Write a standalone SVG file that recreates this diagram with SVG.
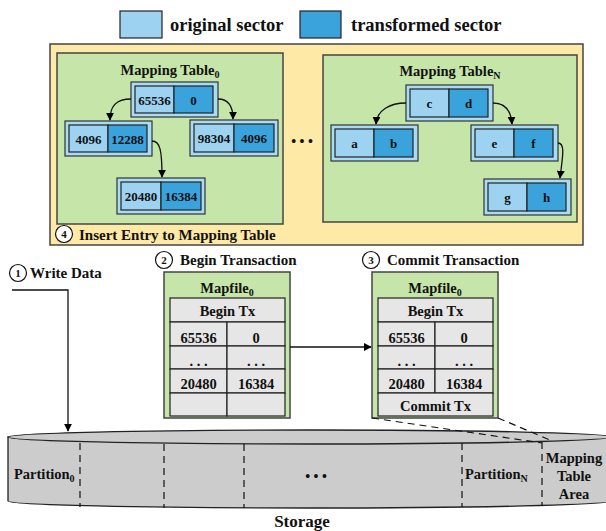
<svg xmlns="http://www.w3.org/2000/svg" width="606" height="531" viewBox="0 0 606 531">
<defs>
<marker id="ah" viewBox="0 0 10 10" refX="9" refY="5" markerWidth="8" markerHeight="8" markerUnits="userSpaceOnUse" orient="auto">
<path d="M0,0 L10,5 L0,10 z" fill="#000"/>
</marker>
<style>
text{font-family:"Liberation Serif","Times New Roman",serif;font-weight:bold;fill:#111;}
tspan{fill:#111;}
.lt{fill:#9dd3f1;stroke:#222;stroke-width:1.2;}
.dk{fill:#3ba3dc;stroke:#222;stroke-width:1.2;}
.outer{fill:#a9dbf4;stroke:#333;stroke-width:1.2;}
.yel{fill:#ffe9a6;stroke:#444;stroke-width:1.5;}
.grn{fill:#c6e6a9;stroke:#444;stroke-width:1.5;}
.cell{fill:#e6e6e6;stroke:#222;stroke-width:1.2;}
.num{font-size:13px;text-anchor:middle;}
.mf{font-size:14.5px;text-anchor:middle;}
.lbl{font-size:15px;}
.circ{fill:#fff;stroke:#111;stroke-width:1.2;}
.cn{font-size:11px;text-anchor:middle;}
.conn{fill:none;stroke:#111;stroke-width:1.3;}
.dash{fill:none;stroke:#111;stroke-width:1.2;stroke-dasharray:7,5;}
</style>
</defs>

<!-- Legend -->
<g id="legend">
<rect x="120" y="11" width="42" height="27" class="lt"/>
<text x="170" y="31" font-size="18.5">original sector</text>
<rect x="300" y="11" width="41" height="27" class="dk"/>
<text x="351" y="31" font-size="18.5">transformed sector</text>
</g>

<!-- Container -->
<g id="mapping-area">
<rect x="50" y="44" width="533" height="201" class="yel"/>
<rect x="57" y="53" width="226" height="171" class="grn"/>
<rect x="323" y="55" width="254" height="167" class="grn"/>
<text x="170" y="75" font-size="14.5" text-anchor="middle">Mapping Table<tspan font-size="10" dy="3">0</tspan></text>
<text x="450" y="76" font-size="14.5" text-anchor="middle">Mapping Table<tspan font-size="10" dy="3">N</tspan></text>
<text x="302" y="146" font-size="14" text-anchor="middle">• • •</text>
<circle cx="64" cy="234" r="8.5" class="circ"/>
<text x="64" y="238" class="cn">4</text>
<text x="79" y="239.5" class="lbl" font-size="16">Insert Entry to Mapping Table</text>
</g>

<!-- Tree 0 nodes -->
<g id="n65536">
<rect x="131" y="82" width="87" height="35" class="outer"/>
<rect x="135" y="86" width="39" height="27" class="lt"/>
<rect x="174" y="86" width="39" height="27" class="dk"/>
<text x="154.5" y="104.5" class="num">65536</text>
<text x="193.5" y="104.5" class="num">0</text>
</g>
<g id="n4096">
<rect x="65" y="121" width="87" height="35" class="outer"/>
<rect x="69" y="125" width="39" height="27" class="lt"/>
<rect x="108" y="125" width="39" height="27" class="dk"/>
<text x="88.5" y="143.5" class="num">4096</text>
<text x="127.5" y="143.5" class="num">12288</text>
</g>
<g id="n98304">
<rect x="190" y="120" width="88" height="36" class="outer"/>
<rect x="194" y="124" width="40" height="28" class="lt"/>
<rect x="234" y="124" width="40" height="28" class="dk"/>
<text x="214" y="142.5" class="num">98304</text>
<text x="254" y="142.5" class="num">4096</text>
</g>
<g id="n20480">
<rect x="117" y="178" width="88" height="36" class="outer"/>
<rect x="121" y="182" width="40" height="28" class="lt"/>
<rect x="161" y="182" width="40" height="28" class="dk"/>
<text x="141" y="200.5" class="num">20480</text>
<text x="181" y="200.5" class="num">16384</text>
</g>

<!-- Tree N nodes -->
<g id="ncd">
<rect x="406" y="85" width="87" height="36" class="outer"/>
<rect x="410" y="89" width="39" height="28" class="lt"/>
<rect x="449" y="89" width="39" height="28" class="dk"/>
<text x="429.5" y="107.5" class="num">c</text>
<text x="468.5" y="107.5" class="num">d</text>
</g>
<g id="nab">
<rect x="331" y="125" width="87" height="36" class="outer"/>
<rect x="335" y="129" width="39" height="28" class="lt"/>
<rect x="374" y="129" width="39" height="28" class="dk"/>
<text x="354.5" y="147.5" class="num">a</text>
<text x="393.5" y="147.5" class="num">b</text>
</g>
<g id="nef">
<rect x="471" y="125" width="87" height="36" class="outer"/>
<rect x="475" y="129" width="39" height="28" class="lt"/>
<rect x="514" y="129" width="39" height="28" class="dk"/>
<text x="494.5" y="147.5" class="num">e</text>
<text x="533.5" y="147.5" class="num">f</text>
</g>
<g id="ngh">
<rect x="484" y="179" width="87" height="36" class="outer"/>
<rect x="488" y="183" width="39" height="28" class="lt"/>
<rect x="527" y="183" width="39" height="28" class="dk"/>
<text x="507.5" y="201.5" class="num">g</text>
<text x="546.5" y="201.5" class="num">h</text>
</g>

<!-- Step labels -->
<g id="step1">
<circle cx="18" cy="273" r="8.5" class="circ"/>
<text x="18" y="277" class="cn">1</text>
<text x="30" y="278" class="lbl">Write Data</text>
</g>
<g id="step2">
<circle cx="164" cy="260" r="8.5" class="circ"/>
<text x="164" y="264" class="cn">2</text>
<text x="180" y="265" class="lbl">Begin Transaction</text>
</g>
<g id="step3">
<circle cx="371" cy="260" r="8.5" class="circ"/>
<text x="371" y="264" class="cn">3</text>
<text x="387" y="265" class="lbl">Commit Transaction</text>
</g>

<!-- Mapfile begin -->
<g id="mapfile-begin">
<rect x="164" y="272" width="126" height="146" class="grn"/>
<text x="227" y="293" class="mf">Mapfile<tspan font-size="10" dy="3">0</tspan></text>
<rect x="170" y="298" width="115" height="24" class="cell"/>
<rect x="170" y="322" width="57" height="24" class="cell"/>
<rect x="227" y="322" width="58" height="24" class="cell"/>
<rect x="170" y="346" width="57" height="23" class="cell"/>
<rect x="227" y="346" width="58" height="23" class="cell"/>
<rect x="170" y="369" width="57" height="24" class="cell"/>
<rect x="227" y="369" width="58" height="24" class="cell"/>
<rect x="170" y="393" width="57" height="23" class="cell"/>
<rect x="227" y="393" width="58" height="23" class="cell"/>
<text x="227.5" y="315.5" class="mf">Begin Tx</text>
<text x="198.5" y="343" class="mf">65536</text>
<text x="256" y="343" class="mf">0</text>
<text x="198.5" y="366" class="mf">. . .</text>
<text x="256" y="366" class="mf">. . .</text>
<text x="198.5" y="389" class="mf">20480</text>
<text x="256" y="389" class="mf">16384</text>
</g>

<!-- Mapfile commit -->
<g id="mapfile-commit">
<rect x="372" y="272" width="126" height="146" class="grn"/>
<text x="435" y="293" class="mf">Mapfile<tspan font-size="10" dy="3">0</tspan></text>
<rect x="378" y="298" width="115" height="24" class="cell"/>
<rect x="378" y="322" width="57" height="24" class="cell"/>
<rect x="435" y="322" width="58" height="24" class="cell"/>
<rect x="378" y="346" width="57" height="23" class="cell"/>
<rect x="435" y="346" width="58" height="23" class="cell"/>
<rect x="378" y="369" width="57" height="24" class="cell"/>
<rect x="435" y="369" width="58" height="24" class="cell"/>
<rect x="378" y="393" width="115" height="23" class="cell"/>
<text x="435.5" y="315.5" class="mf">Begin Tx</text>
<text x="406.5" y="343" class="mf">65536</text>
<text x="464" y="343" class="mf">0</text>
<text x="406.5" y="366" class="mf">. . .</text>
<text x="464" y="366" class="mf">. . .</text>
<text x="406.5" y="389" class="mf">20480</text>
<text x="464" y="389" class="mf">16384</text>
<text x="435.5" y="410.5" class="mf">Commit Tx</text>
</g>

<!-- Storage -->
<g id="storage">
<path d="M8,437 L8,501 A302,7 0 0 0 612,501 L612,437 Z" fill="#cccccc" stroke="#222" stroke-width="1.3"/>
<ellipse cx="310" cy="437" rx="302" ry="7" fill="#cccccc" stroke="#222" stroke-width="1.3"/>
<g class="dash">
<line x1="80" y1="443" x2="80" y2="507"/>
<line x1="164" y1="444" x2="164" y2="508"/>
<line x1="244" y1="444" x2="244" y2="508"/>
<line x1="462" y1="443" x2="462" y2="507"/>
<line x1="542" y1="442" x2="542" y2="506"/>
</g>
<text x="14" y="479" font-size="14.5">Partition<tspan font-size="10" dy="3">0</tspan></text>
<text x="316" y="481" font-size="14" text-anchor="middle">• • •</text>
<text x="465" y="479" font-size="14.5">Partition<tspan font-size="10" dy="3">N</tspan></text>
<text x="574" y="463" font-size="14.5" text-anchor="middle">Mapping</text>
<text x="574" y="481" font-size="14.5" text-anchor="middle">Table</text>
<text x="574" y="499" font-size="14.5" text-anchor="middle">Area</text>
<text x="302" y="527" font-size="17" text-anchor="middle">Storage</text>
</g>

<!-- Connectors -->
<g id="connectors">
<path d="M131,99 C116,99 110,106 110,120" class="conn" marker-end="url(#ah)"/>
<path d="M218,99 C228,99 233,106 233,119" class="conn" marker-end="url(#ah)"/>
<path d="M152,141 C160,141 162,150 162,177" class="conn" marker-end="url(#ah)"/>
<path d="M406,103 C390,103 377,110 376,124" class="conn" marker-end="url(#ah)"/>
<path d="M493,103 C504,103 511,110 512,124" class="conn" marker-end="url(#ah)"/>
<path d="M558,143 C566,143 562,160 560,178" class="conn" marker-end="url(#ah)"/>
<path d="M12,290 L68,290 L68,431" class="conn" marker-end="url(#ah)"/>
<path d="M290,347 L371,347" class="conn" marker-end="url(#ah)"/>
<path d="M372,418 L542,443" class="dash"/>
<path d="M498,418 L550,440" class="dash"/>
</g>
</svg>
